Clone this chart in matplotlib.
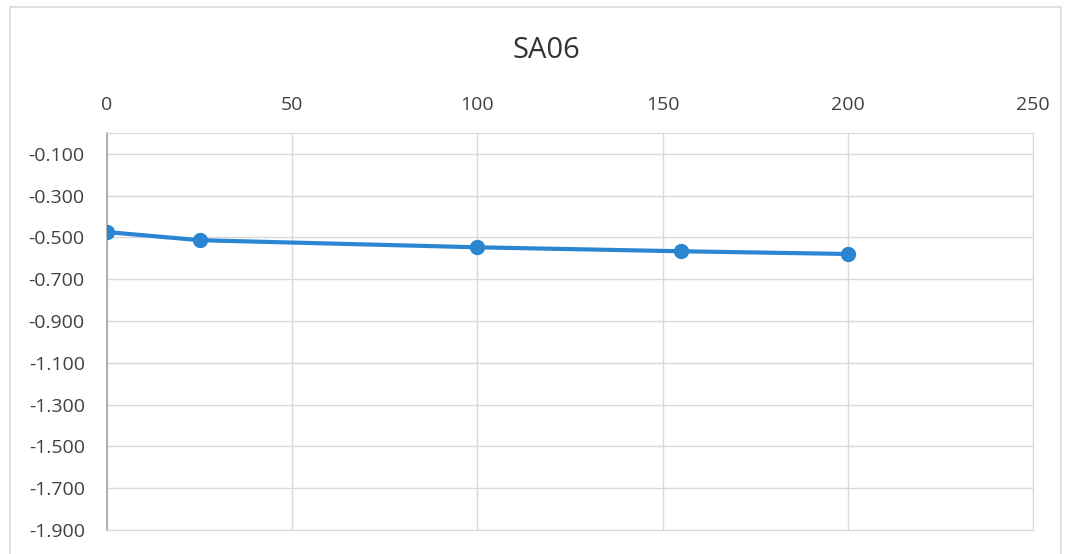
import matplotlib.pyplot as plt
from matplotlib.patches import Rectangle

# datos
distancia = [0, 25, 100, 155, 200]
valores = [-0.474, -0.513, -0.547, -0.566, -0.579]
x_ticks = [0, 50, 100, 150, 200, 250]
y_ticks = [-0.1, -0.3, -0.5, -0.7, -0.9, -1.1, -1.3, -1.5, -1.7, -1.9]

plt.rcParams['font.family'] = ['Open Sans', 'DejaVu Sans']

fig = plt.figure(figsize=(10.67, 5.54), dpi=100)
fig.patches.append(Rectangle((0.009, -0.01), 0.985, 0.997, transform=fig.transFigure,
                             fill=False, edgecolor='#d9d9d9', linewidth=1.2))

ax = fig.add_axes([107 / 1067, 1 - 530 / 554, (1033 - 107) / 1067, (530 - 133) / 554])
ax.plot(distancia, valores, color='#2a86d1', linewidth=3, marker='o',
        markersize=10, markerfacecolor='#2a86d1', markeredgecolor='#2a86d1', zorder=3)

ax.set_xlim(0, 250)
ax.set_ylim(-1.9, 0)
ax.set_xticks(x_ticks)
ax.set_yticks(y_ticks)
ax.set_yticklabels([f"{v:.3f}" for v in y_ticks])
ax.xaxis.tick_top()
ax.tick_params(axis='both', length=0, labelsize=14, colors='#404040')
ax.tick_params(axis='x', pad=14)
ax.tick_params(axis='y', pad=16)

ax.grid(True, color='#d9d9d9', linewidth=1)
ax.set_axisbelow(True)
for lado in ['top', 'right', 'bottom']:
    ax.spines[lado].set_color('#d9d9d9')
ax.spines['left'].set_color('#a6a6a6')
ax.spines['left'].set_linewidth(1.2)

fig.text(546 / 1067, 1 - 50 / 554, "SA06", ha='center', va='center',
         fontsize=21, color='#333333')

fig.savefig("out.png", dpi=100)
